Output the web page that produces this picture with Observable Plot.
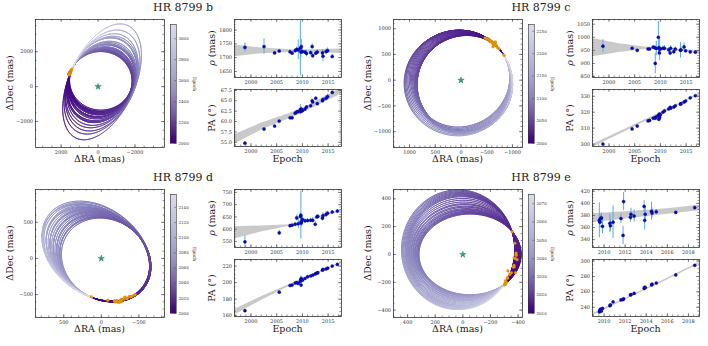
<!DOCTYPE html>
<html><head><meta charset="utf-8">
<script src="https://cdn.jsdelivr.net/npm/d3@7"></script>
<script src="https://cdn.jsdelivr.net/npm/@observablehq/plot@0.6"></script>
<style>
body{margin:0;background:#fff;}
#fig{position:relative;width:708px;height:346px;overflow:hidden;background:#fff;}
.lbl{position:absolute;white-space:nowrap;font-family:"DejaVu Serif",serif;color:#222;line-height:1;}
svg{overflow:visible;}
</style></head><body><div id="fig"></div>
<script>
// ---------- HR 8799 b ----------
const bEpoch = [1998.83,2002.54,2004.6,2005.5,2007.6,2008.0,2008.6,2008.9,2009.2,2009.6,2009.7,2009.8,2010.0,2010.5,2010.8,2011.6,2011.9,2012.0,2012.6,2012.9,2013.9,2014.0,2014.6,2014.9,2015.8];
const bRho = [1737,1740,1717,1724,1721,1716,1725,1730,1728,1734,1720,1740,1722,1720,1715,1718,1740,1707,1716,1720,1717,1705,1722,1725,1704];
const bRhoErr = [16,28,5,5,6,5,8,8,36,100,20,25,10,8,12,8,10,10,8,8,12,20,10,10,8];
const bPA = [54.8,58.2,58.9,60.1,60.9,60.9,62.0,62.3,62.4,62.9,62.4,63.0,62.6,63.0,63.5,63.8,65.0,64.7,65.6,64.3,65.0,65.3,65.6,66.0,67.0];
const bPAErr = [0.3,0.4,0.2,0.2,0.2,0.2,0.4,0.4,0.3,1.2,0.4,0.5,0.3,0.3,0.3,0.3,0.3,0.3,0.4,0.4,0.4,0.4,0.6,0.6,0.3];
const bBandEpoch = [1996.8,2002,2009.7,2017.6];
const bRhoLo = [1703,1714,1720,1715];
const bRhoHi = [1746,1735,1727,1731];
const bPALo = [54.6,57.9,61.8,66.6];
const bPAHi = [56.8,59.6,62.9,68.1];
const bOrbA = [1700,1720,1745,1770,1800,1830,1860,1895,1930,1970,2010,2055,2100,2150,2210,2270,2340,2420,2510,2620,2750,2920,3150,3520];
const bOrbB = [1700,1705,1710,1718,1722,1728,1733,1738,1740,1745,1748,1740,1752,1745,1758,1760,1762,1766,1770,1774,1778,1782,1788,1787];
const bOrbTheta = [112,113,111,112,114,112,113,111,112,113,114,112,111,113,112,114,112,113,111,112,113,112,113,112.6];
const bOrbT0 = [-91,-90,-89,-90,-91,-90,-90,-89,-90,-91,-90,-89,-90,-91,-90,-90,-89,-90,-91,-90,-90,-89,-90,-90];
const bOrbPeriod = [450,460,475,490,505,520,535,555,575,595,615,640,665,690,720,755,790,830,875,925,985,1040,1090,1136];
const bAnchor = [1432,961];
const bRaTicks = [2000,0,-2000];
const bDecTicks = [-2000,0,2000];
const bCbTicks = [2000,2200,2400,2600,2800,3000];
const bRhoTicks = [1650,1700,1750,1800];
const bPATicks = [55.0,57.5,60.0,62.5,65.0,67.5];

// ---------- HR 8799 c ----------
const cEpoch = [1998.83,2004.5,2005.5,2007.6,2007.9,2008.6,2008.9,2009.0,2009.2,2009.6,2009.7,2009.8,2009.85,2010.0,2010.5,2010.8,2011.6,2011.9,2012.0,2012.6,2012.9,2013.9,2014.0,2014.6,2014.9,2015.8,2016.8];
const cRho = [966,958,950,955,955,962,960,900,957,1000,960,940,955,955,958,958,952,940,958,945,955,950,952,963,948,944,943];
const cRhoErr = [25,5,5,5,5,6,8,40,28,60,10,12,45,8,8,10,8,10,10,12,8,30,10,15,5,5,5];
const cPA = [300.0,309.5,311.3,314.5,314.8,316.2,316.5,316.2,317.0,318.0,315.5,318.8,316.7,318.4,320.0,320.8,322.0,323.0,322.5,323.2,324.0,325.0,325.3,326.3,327.0,329.0,330.3];
const cPAErr = [0.5,0.4,0.4,0.4,0.4,0.5,0.5,0.6,0.6,1.2,0.6,0.8,0.8,0.5,0.4,0.4,0.4,0.4,0.4,0.5,0.5,0.5,0.5,0.5,0.4,0.3,0.3];
const cBandEpoch = [1996.8,2002,2007,2010,2017.6];
const cRhoLo = [925,942,953,952,939];
const cRhoHi = [995,975,963,959,948];
const cPALo = [297.8,306.0,314.0,318.5,330.7];
const cPAHi = [299.8,307.6,315.2,319.6,331.9];
const cOrbA = [950,955,960,964,968,972,976,980,984,988,992,996,1000,1004,1008,1012,1016,1020,1025,1030,1035,1040,1045,1050];
const cOrbB = [860,866,872,878,884,890,896,902,908,914,920,926,932,938,944,950,956,962,970,978,986,996,1008,1020];
const cOrbTheta = [146,140,134,128,122,116,110,104,98,92,86,80,74,68,62,56,50,44,38,30,22,14,6,0];
const cOrbT0 = [0,6,12,18,24,30,36,42,48,54,60,66,72,78,84,90,96,102,108,116,124,132,140,146];
const cOrbPeriod = [190,193,196,199,202,205,208,211,214,217,220,223,226,229,232,235,238,241,244,248,252,256,260,263];
const cAnchor = [-816,510];
const cRaTicks = [1000,500,0,-500,-1000];
const cDecTicks = [-1000,-500,0,500,1000];
const cCbTicks = [2000,2050,2100,2150,2200,2250];
const cRhoTicks = [850,900,950,1000,1050];
const cPATicks = [300,310,320,330];

// ---------- HR 8799 d ----------
const dEpoch = [1998.83,2005.5,2007.6,2008.0,2008.6,2008.9,2009.2,2009.6,2009.7,2009.75,2009.8,2010.0,2010.5,2011.0,2011.6,2012.0,2012.5,2012.8,2013.0,2013.9,2014.0,2014.6,2014.9,2015.8,2016.8];
const dRho = [548,585,614,616,620,646,622,652,657,630,625,640,634,635,636,636,620,650,652,645,655,660,665,670,674];
const dRhoErr = [25,10,6,8,8,12,20,15,98,20,15,12,8,8,8,10,10,8,8,12,12,12,8,6,6];
const dPA = [166,188.5,196.5,197,199.5,200,199,201.5,204,197,205,203,205,207,208,209,210.5,211.5,212,215,216,216.5,217.5,220,222];
const dPAErr = [1.0,0.8,0.8,0.8,0.8,1.0,1.0,1.5,4.0,1.5,2.0,1.5,1.0,1.0,1.0,1.0,1.0,1.0,1.0,1.0,1.0,1.0,1.0,0.8,0.8];
const dBandEpoch = [1996.8,2002,2007.6,2012,2017.6];
const dRhoLo = [560,588,612,638,672];
const dRhoHi = [610,613,618,644,680];
const dPALo = [160.5,178.5,196.0,208.5,223.0];
const dPAHi = [167.5,183.0,198.0,210.0,225.0];
const dOrbA = [623,630,638,645,653,660,668,676,684,692,700,708,716,724,732,740,748,756,765,775,785,792,800,810];
const dOrbB = [545,546,548,549,551,552,554,555,557,558,560,561,563,564,566,567,569,570,572,575,578,581,585,590];
const dOrbTheta = [40,39,40,41,40,39,40,41,40,39,40,41,40,39,40,41,40,39,40,41,40,39,41,41];
const dOrbT0 = [-109,-109.5,-110,-110.3,-110.6,-111,-111.4,-111.8,-112.2,-112.6,-113,-113.3,-113.6,-114,-114.4,-114.8,-115.2,-115.6,-116,-116.5,-117,-117.4,-118,-118.5];
const dOrbPeriod = [105,107,109,111,113,115,117,119,121,123,125,127,129,131,133,135,137,140,143,146,149,152,155,157];
const dAnchor = [115,-545];
const dRaTicks = [500,0,-500];
const dDecTicks = [-500,0,500];
const dCbTicks = [2000,2020,2040,2060,2080,2100,2120,2140];
const dRhoTicks = [550,600,650,700,750];
const dPATicks = [160,180,200,220];

// ---------- HR 8799 e ----------
const eEpoch = [2009.55,2009.6,2009.65,2009.75,2009.85,2010.55,2010.6,2010.85,2011.6,2011.8,2011.85,2012.5,2012.55,2012.85,2013.8,2013.85,2013.9,2014.5,2014.55,2014.95,2016.8,2018.6];
const eRho = [372,369,375,376,362,367,363,369,375,347,403,377,382,379,395,372,382,387,384,386,385,393];
const eRhoErr = [29,10,6,8,12,15,10,27,8,15,15,8,10,10,10,16,10,15,8,4,3,2];
const ePA = [234,236,237.5,235,238.5,242,243,247,249.5,250,251,256,256.5,258,264.5,266,265.5,269,270,271.5,282,294.5];
const ePAErr = [2.5,1.5,1,1,1,1,1,1,1,1,1,1,1,1,1.5,1.5,1,1,1,0.5,0.5,0.3];
const eBandEpoch = [2008.9,2012,2016,2019.05];
const eRhoLo = [368,374,382,388];
const eRhoHi = [383,386,391,397];
const ePALo = [229.0,249.5,275.5,296.0];
const ePAHi = [231.5,251.5,277.5,298.5];
const eOrbA = [370,371,372,373,374,376,377,378,380,381,383,384,386,387,389,390,392,394,396,398,401,404,407,410];
const eOrbB = [290,294,298,302,306,312,316,322,330,336,345,350,360,370,380,390,395,400,405,410,415,420,425,430];
const eOrbTheta = [0,0,0,0,0,0,0,0,0,0,0,0,0,0,0,0,0,0,0,0,0,0,0,0];
const eOrbT0 = [228.0,227.4,226.9,226.3,225.8,225.0,224.5,223.8,222.9,222.3,221.4,221.0,220.1,219.4,218.7,218.0,217.6,217.2,216.8,216.5,216.1,215.8,215.6,215.4];
const eOrbPeriod = [45,46,47,48,49,50,51,51.5,52,53,54,55,56,57,57.5,58,59,60,61,61.5,62,63,64,65];
const eAnchor = [-300,-215];
const eRaTicks = [400,200,0,-200,-400];
const eDecTicks = [-400,-200,0,200,400];
const eCbTicks = [2010,2020,2030,2040,2050,2060,2070];
const eRhoTicks = [340,360,380,400,420];
const ePATicks = [240,260,280,300];

const epochTicks = [2000,2005,2010,2015];
const eEpochTicks = [2010,2012,2014,2016,2018];

// ---------- layout ----------
const planets = [
 {name:"HR 8799 b", ox:0, oy:0, ep:bEpoch, rho:bRho, rhoErr:bRhoErr, pa:bPA, paErr:bPAErr,
  band:[bBandEpoch,bRhoLo,bRhoHi,bPALo,bPAHi], orb:[bOrbA,bOrbB,bOrbTheta,bOrbT0,bOrbPeriod], anchor:bAnchor, start:2000,
  cb:[2000,3136], cbTicks:bCbTicks, raDom:[3390,-3600], decDom:[-3490,3850], raTicks:bRaTicks, decTicks:bDecTicks, orbMinor:500,
  tDom:[1996.8,2017.6], tTicks:epochTicks, tMinor:1, rhoDom:[1628,1838], rhoTicks:bRhoTicks, rhoMinor:10,
  paDom:[54.0,67.7], paTicks:bPATicks, paMinor:0.5, paFmt:".1f"},
 {name:"HR 8799 c", ox:358, oy:0, ep:cEpoch, rho:cRho, rhoErr:cRhoErr, pa:cPA, paErr:cPAErr,
  band:[cBandEpoch,cRhoLo,cRhoHi,cPALo,cPAHi], orb:[cOrbA,cOrbB,cOrbTheta,cOrbT0,cOrbPeriod], anchor:cAnchor, start:2000,
  cb:[2000,2265], cbTicks:cCbTicks, raDom:[1312,-1195], decDom:[-1308,1179], raTicks:cRaTicks, decTicks:cDecTicks, orbMinor:100,
  tDom:[1996.8,2017.6], tTicks:epochTicks, tMinor:1, rhoDom:[846,1068], rhoTicks:cRhoTicks, rhoMinor:10,
  paDom:[298.5,334.2], paTicks:cPATicks, paMinor:2, paFmt:"d"},
 {name:"HR 8799 d", ox:0, oy:170, ep:dEpoch, rho:dRho, rhoErr:dRhoErr, pa:dPA, paErr:dPAErr,
  band:[dBandEpoch,dRhoLo,dRhoHi,dPALo,dPAHi], orb:[dOrbA,dOrbB,dOrbTheta,dOrbT0,dOrbPeriod], anchor:dAnchor, start:2000,
  cb:[2000,2157], cbTicks:dCbTicks, raDom:[876,-841], decDom:[-817,954], raTicks:dRaTicks, decTicks:dDecTicks, orbMinor:100,
  tDom:[1996.8,2017.6], tTicks:epochTicks, tMinor:1, rhoDom:[525,762], rhoTicks:dRhoTicks, rhoMinor:10,
  paDom:[159,228], paTicks:dPATicks, paMinor:5, paFmt:"d"},
 {name:"HR 8799 e", ox:358, oy:170, ep:eEpoch, rho:eRho, rhoErr:eRhoErr, pa:ePA, paErr:ePAErr,
  band:[eBandEpoch,eRhoLo,eRhoHi,ePALo,ePAHi], orb:[eOrbA,eOrbB,eOrbTheta,eOrbT0,eOrbPeriod], anchor:eAnchor, start:2010,
  cb:[2010,2075], cbTicks:eCbTicks, raDom:[502,-432], decDom:[-453,467], raTicks:eRaTicks, decTicks:eDecTicks, orbMinor:50,
  tDom:[2008.9,2019.05], tTicks:eEpochTicks, tMinor:0.5, rhoDom:[327,423], rhoTicks:eRhoTicks, rhoMinor:5,
  paDom:[228,302], paTicks:ePATicks, paMinor:5, paFmt:"d"}
];

const G = {
  orbit:{x:35,y:19,w:129,h:128},
  cbar:{x:170,y:24,w:6,h:119},
  rho:{x:234,y:19,w:107,h:58},
  pa:{x:234,y:89,w:107,h:57}
};

const fig = document.getElementById("fig");
const purp = t => d3.interpolatePurples(1 - 0.77 * t);
const TICK = "#444", FRAME = "#333";

function label(html, x, y, size, rot) {
  const d = document.createElement("div");
  d.className = "lbl";
  d.innerHTML = html;
  d.style.left = x + "px"; d.style.top = y + "px"; d.style.fontSize = size + "px";
  d.style.transform = `translate(-50%,-50%) rotate(${rot || 0}deg)`;
  fig.appendChild(d);
}

function inDom(v, dom) { const lo = Math.min(...dom), hi = Math.max(...dom); return v >= lo - 1e-9 && v <= hi + 1e-9; }
function minorTicks(dom, step) {
  const lo = Math.min(...dom), hi = Math.max(...dom);
  return d3.range(Math.ceil(lo / step) * step, hi, step);
}

function frameMarks(f, xt, yt, xMinor, yMinor, xDom, yDom, xFmt, yFmt) {
  const xs = xt.filter(v => inDom(v, xDom)), ys = yt.filter(v => inDom(v, yDom));
  const xm = xMinor.filter(v => inDom(v, xDom)), ym = yMinor.filter(v => inDom(v, yDom));
  const L = 3, l = 1.5;
  const st = {stroke: TICK, strokeWidth: 0.6};
  return [
    Plot.tickX(xm, {x: d => d, insetTop: f.h - l, ...st}),
    Plot.tickX(xm, {x: d => d, insetBottom: f.h - l, ...st}),
    Plot.tickY(ym, {y: d => d, insetRight: f.w - l, ...st}),
    Plot.tickY(ym, {y: d => d, insetLeft: f.w - l, ...st}),
    Plot.tickX(xs, {x: d => d, insetTop: f.h - L, ...st}),
    Plot.tickX(xs, {x: d => d, insetBottom: f.h - L, ...st}),
    Plot.tickY(ys, {y: d => d, insetRight: f.w - L, ...st}),
    Plot.tickY(ys, {y: d => d, insetLeft: f.w - L, ...st}),
    Plot.axisX(xs, {anchor: "bottom", tickSize: 0, tickPadding: 2.5, fontSize: 5, label: null, tickFormat: xFmt, fill: "#333"}),
    Plot.axisY(ys, {anchor: "left", tickSize: 0, tickPadding: 2.5, fontSize: 5, label: null, tickFormat: yFmt, fill: "#333"}),
    Plot.frame({stroke: FRAME, strokeWidth: 0.8})
  ];
}

function place(f, ox, oy, opts) {
  const ml = 34, mr = 14, mt = 5, mb = 12;
  const svg = Plot.plot({
    width: f.w + ml + mr, height: f.h + mt + mb,
    marginLeft: ml, marginRight: mr, marginTop: mt, marginBottom: mb,
    style: {fontFamily: "DejaVu Serif, serif", color: "#333", background: "transparent", overflow: "visible"},
    ...opts
  });
  svg.style.position = "absolute";
  svg.style.left = (f.x + ox - ml) + "px";
  svg.style.top = (f.y + oy - mt) + "px";
  fig.appendChild(svg);
}

function orbitSegments(anchor, A, B, TH, T0, P, start) {
  const segs = [], N = 240, dir = -1;
  for (let i = 0; i < A.length; i++) {
    const th = TH[i] * Math.PI / 180, t0 = T0[i] * Math.PI / 180;
    const c = Math.cos(th), s = Math.sin(th);
    const pt = t => { const u = A[i] * Math.cos(t), v = B[i] * Math.sin(t); return [u * c - v * s, u * s + v * c]; };
    const o = pt(t0);
    const cx = anchor[0] - o[0], cy = anchor[1] - o[1];
    let prev = [anchor[0], anchor[1]];
    for (let k = 1; k <= N; k++) {
      const q = pt(t0 + dir * 2 * Math.PI * k / N);
      const cur = [cx + q[0], cy + q[1]];
      segs.push({x1: prev[0], y1: prev[1], x2: cur[0], y2: cur[1], epoch: start + P[i] * (k - 0.5) / N});
      prev = cur;
    }
  }
  return segs;
}

for (const p of planets) {
  const obs = p.ep.map((t, i) => ({t, rho: p.rho[i], rhoErr: p.rhoErr[i], pa: p.pa[i], paErr: p.paErr[i],
    ra: p.rho[i] * Math.sin(p.pa[i] * Math.PI / 180), dec: p.rho[i] * Math.cos(p.pa[i] * Math.PI / 180)}));
  const band = p.band[0].map((t, i) => ({t, rlo: p.band[1][i], rhi: p.band[2][i], plo: p.band[3][i], phi: p.band[4][i]}));
  const segs = orbitSegments(p.anchor, ...p.orb, p.start);
  const colorOpts = {type: "linear", domain: p.cb, interpolate: purp};

  // orbit panel
  place(G.orbit, p.ox, p.oy, {
    x: {domain: p.raDom}, y: {domain: p.decDom}, color: colorOpts,
    marks: [
      Plot.link(segs, {x1: "x1", y1: "y1", x2: "x2", y2: "y2", stroke: "epoch", strokeWidth: 1.0, strokeOpacity: 0.95, strokeLinecap: "round", clip: true}),
      Plot.dot(obs, {x: "ra", y: "dec", r: 1.4, fill: "#ec9a0e", stroke: "#c77d00", strokeWidth: 0.3}),
      Plot.dot([0], {x: () => 0, y: () => 0, symbol: "star", r: 2, fill: "#2f9e80", stroke: "#1c6b56", strokeWidth: 0.4}),
      ...frameMarks(G.orbit, p.raTicks, p.decTicks, minorTicks(p.raDom, p.orbMinor), minorTicks(p.decDom, p.orbMinor), p.raDom, p.decDom, d3.format("d"), d3.format("d"))
    ]
  });

  // colorbar
  const step = (p.cb[1] - p.cb[0]) / 120;
  const stops = d3.range(p.cb[0], p.cb[1], step);
  place(G.cbar, p.ox, p.oy, {
    x: {domain: [0, 1], axis: null}, y: {domain: p.cb, axis: null}, color: colorOpts,
    marks: [
      Plot.rectY(stops, {x1: () => 0, x2: () => 1, y1: d => d, y2: d => Math.min(d + step * 1.05, p.cb[1]), fill: d => d + step / 2}),
      Plot.tickY(p.cbTicks, {y: d => d, insetLeft: G.cbar.w - 1.8, stroke: TICK, strokeWidth: 0.5}),
      Plot.axisY(p.cbTicks, {anchor: "right", tickSize: 0, tickPadding: 2, fontSize: 4, label: null, tickFormat: d3.format("d"), fill: "#333"}),
      Plot.frame({stroke: FRAME, strokeWidth: 0.6})
    ]
  });

  // rho panel
  place(G.rho, p.ox, p.oy, {
    x: {domain: p.tDom}, y: {domain: p.rhoDom},
    marks: [
      Plot.areaY(band, {x: "t", y1: "rlo", y2: "rhi", fill: "#c9c9c9", clip: true}),
      Plot.ruleX(obs, {x: "t", y1: d => d.rho - d.rhoErr, y2: d => d.rho + d.rhoErr, stroke: "#58a9f5", strokeWidth: 1, clip: true}),
      Plot.dot(obs, {x: "t", y: "rho", r: 1.6, fill: "#0b0bb5", stroke: "#00007a", strokeWidth: 0.3}),
      ...frameMarks(G.rho, p.tTicks, p.rhoTicks, minorTicks(p.tDom, p.tMinor), minorTicks(p.rhoDom, p.rhoMinor), p.tDom, p.rhoDom, d3.format("d"), d3.format("d"))
    ]
  });

  // PA panel
  place(G.pa, p.ox, p.oy, {
    x: {domain: p.tDom}, y: {domain: p.paDom},
    marks: [
      Plot.areaY(band, {x: "t", y1: "plo", y2: "phi", fill: "#c9c9c9", clip: true}),
      Plot.ruleX(obs, {x: "t", y1: d => d.pa - d.paErr, y2: d => d.pa + d.paErr, stroke: "#58a9f5", strokeWidth: 1, clip: true}),
      Plot.dot(obs, {x: "t", y: "pa", r: 1.6, fill: "#0b0bb5", stroke: "#00007a", strokeWidth: 0.3}),
      ...frameMarks(G.pa, p.tTicks, p.paTicks, minorTicks(p.tDom, p.tMinor), minorTicks(p.paDom, p.paMinor), p.tDom, p.paDom, d3.format("d"), d3.format(p.paFmt))
    ]
  });

  // texts
  label(p.name, 183 + p.ox, 7 + p.oy, 11);
  label("ΔRA (mas)", 99.5 + p.ox, 159 + p.oy, 9.5);
  label("ΔDec (mas)", 10 + p.ox, 83 + p.oy, 9.5, -90);
  label("Epoch", 287.5 + p.ox, 159 + p.oy, 9.5);
  label("<i>ρ</i> (mas)", 212 + p.ox, 48 + p.oy, 9.5, -90);
  label("PA (°)", 212 + p.ox, 117.5 + p.oy, 9.5, -90);
  label("Epoch", 194 + p.ox, 83.5 + p.oy, 4.5, 90);
}
</script></body></html>
